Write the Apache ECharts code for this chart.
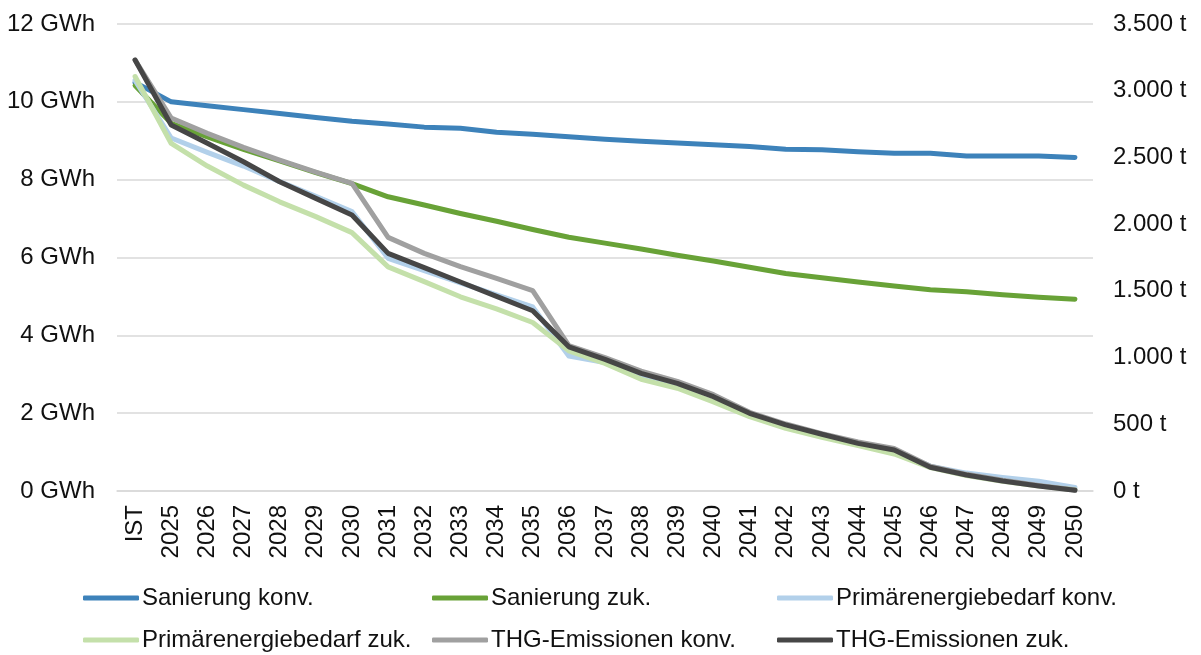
<!DOCTYPE html>
<html>
<head>
<meta charset="utf-8">
<script src="https://cdn.jsdelivr.net/npm/echarts@6/dist/echarts.min.js"></script>
<style>
  html, body { margin: 0; padding: 0; background: #ffffff; }
  #chart { width: 1201px; height: 655px; }
</style>
</head>
<body>
<div id="chart"></div>
<script>
// Jahre der Zeitreihe (IST = Ausgangszustand)
const categories = ['IST', '2025', '2026', '2027', '2028', '2029', '2030', '2031', '2032', '2033',
  '2034', '2035', '2036', '2037', '2038', '2039', '2040', '2041', '2042', '2043',
  '2044', '2045', '2046', '2047', '2048', '2049', '2050'];

// Energiewerte in GWh (linke Achse)
const sanierungKonv = [10.5, 10.0, 9.9, 9.8, 9.7, 9.6, 9.5, 9.43, 9.35, 9.32, 9.22, 9.17, 9.1, 9.04,
  8.99, 8.94, 8.9, 8.85, 8.78, 8.77, 8.72, 8.68, 8.68, 8.61, 8.61, 8.61, 8.57];
const sanierungZuk = [10.42, 9.45, 9.1, 8.78, 8.48, 8.18, 7.9, 7.56, 7.35, 7.13, 6.93, 6.72, 6.52, 6.37,
  6.22, 6.06, 5.91, 5.75, 5.59, 5.48, 5.37, 5.27, 5.17, 5.12, 5.04, 4.98, 4.93];
const primaerKonv = [10.55, 9.07, 8.7, 8.35, 7.95, 7.57, 7.18, 5.98, 5.66, 5.35, 5.04, 4.73, 3.47, 3.3,
  2.98, 2.72, 2.45, 1.98, 1.68, 1.44, 1.22, 1.04, 0.64, 0.46, 0.35, 0.25, 0.09];
const primaerZuk = [10.65, 8.93, 8.35, 7.86, 7.43, 7.05, 6.64, 5.76, 5.38, 4.99, 4.68, 4.33, 3.6, 3.28,
  2.87, 2.64, 2.29, 1.91, 1.61, 1.38, 1.17, 0.95, 0.6, 0.4, 0.25, 0.13, 0.03];

// Emissionen in t (rechte Achse)
const thgKonv = [3230, 2795, 2680, 2575, 2480, 2390, 2306, 1901, 1781, 1681, 1594, 1501, 1090, 1000,
  898, 822, 722, 590, 502, 430, 368, 318, 185, 125, 80, 42, 8];
const thgZuk = [3230, 2743, 2606, 2468, 2318, 2193, 2068, 1781, 1674, 1566, 1459, 1351, 1081, 987,
  882, 807, 707, 582, 495, 425, 357, 307, 178, 120, 75, 37, 5];

const seriesNames = ['Sanierung konv.', 'Sanierung zuk.', 'Primärenergiebedarf konv.',
  'Primärenergiebedarf zuk.', 'THG-Emissionen konv.', 'THG-Emissionen zuk.'];
const seriesColors = ['#3d82ba', '#68a237', '#b2d0ea', '#c4e0aa', '#a0a0a0', '#464646'];
const seriesData = [sanierungKonv, sanierungZuk, primaerKonv, primaerZuk, thgKonv, thgZuk];
const seriesAxis = [0, 0, 0, 0, 1, 1];

// Tausendertrennzeichen im deutschen Format
function deNumber(v) {
  return String(Math.round(v)).replace(/\B(?=(\d{3})+(?!\d))/g, '.');
}

const FONT = '"Liberation Sans", Arial, sans-serif';
const TEXT = '#111111';
const FS = 24;

// Legendenpositionen: drei Spalten, zwei Zeilen
const legendCols = [83, 432, 777];
const legendRows = [584, 626];

const legends = seriesNames.map((name, i) => ({
  data: [{ name: name, icon: 'roundRect' }],
  left: legendCols[i % 3],
  top: legendRows[Math.floor(i / 3)],
  padding: 0,
  itemWidth: 56,
  itemHeight: 5,
  itemGap: 0,
  selectedMode: false,
  textStyle: { fontFamily: FONT, fontSize: FS, color: TEXT, padding: [0, 0, 0, -2], lineHeight: 28 }
}));

const chart = echarts.init(document.getElementById('chart'), null, { renderer: 'canvas' });

chart.setOption({
  animation: false,
  backgroundColor: '#ffffff',
  grid: { left: 117, right: 108, top: 24, bottom: 164, containLabel: false },
  legend: legends,
  xAxis: {
    type: 'category',
    data: categories,
    boundaryGap: true,
    axisTick: { show: false },
    axisLine: { show: true, lineStyle: { color: '#d9d9d9', width: 1.5 } },
    axisLabel: { rotate: 90, margin: 14, fontFamily: FONT, fontSize: FS, color: TEXT, interval: 0 },
    splitLine: { show: false }
  },
  yAxis: [
    {
      type: 'value',
      min: 0, max: 12, interval: 2,
      axisLine: { show: false },
      axisTick: { show: false },
      axisLabel: {
        margin: 22, fontFamily: FONT, fontSize: FS, color: TEXT,
        formatter: v => v + ' GWh'
      },
      splitLine: { show: true, lineStyle: { color: '#d9d9d9', width: 1.5 } }
    },
    {
      type: 'value',
      position: 'right',
      min: 0, max: 3500, interval: 500,
      axisLine: { show: false },
      axisTick: { show: false },
      axisLabel: {
        margin: 20, fontFamily: FONT, fontSize: FS, color: TEXT,
        formatter: v => deNumber(v) + ' t'
      },
      splitLine: { show: false }
    }
  ],
  series: seriesNames.map((name, i) => ({
    name: name,
    type: 'line',
    yAxisIndex: seriesAxis[i],
    data: seriesData[i],
    showSymbol: false,
    symbol: 'none',
    smooth: false,
    z: 2 + i,
    itemStyle: { color: seriesColors[i] },
    lineStyle: { color: seriesColors[i], width: 5, cap: 'round', join: 'round' },
    emphasis: { disabled: true }
  }))
});
</script>
</body>
</html>
